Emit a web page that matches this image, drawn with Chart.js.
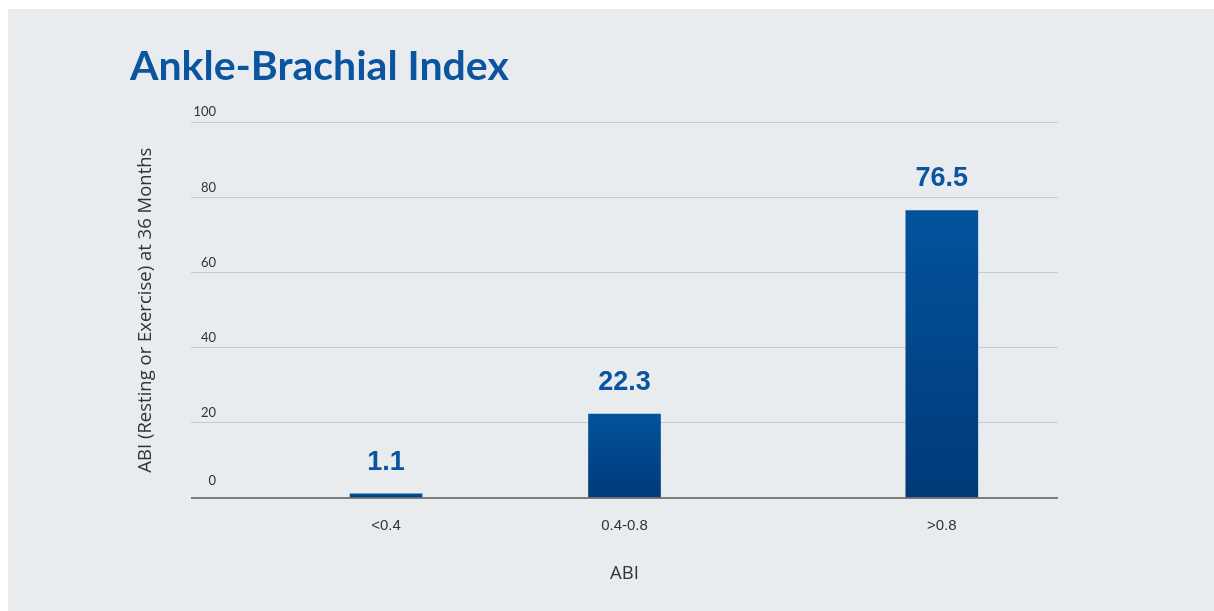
<!DOCTYPE html>
<html>
<head>
<meta charset="utf-8">
<script src="https://cdn.jsdelivr.net/npm/chart.js@4/dist/chart.umd.min.js"></script>
<style>
  html, body { margin: 0; padding: 0; background: #ffffff; }
  .wrap { position: relative; width: 1214px; height: 611px; overflow: hidden; }
  .panel { position: absolute; left: 8px; top: 9px; right: 0; bottom: 0; background: #e9ecef; }
  canvas { position: absolute; left: 0; top: 0; }
</style>
</head>
<body>
<div class="wrap">
  <div class="panel"></div>
  <canvas id="abi" width="1214" height="611"></canvas>
</div>
<script>
// ABI groups and share of limbs (%) at 36 months
const categories = ['<0.4', '0.4-0.8', '>0.8'];
const values = [1.1, 22.3, 76.5];
const yTicks = [0, 20, 40, 60, 80, 100];

// where each group sits along the x axis (0-100 track)
const slots = [22.5, 50, 86.6];

const blue = '#0a54a0';

function barFill(c) {
    const chart = c.chart;
    const area = chart.chartArea;
    if (!area) return '#004f99';
    const y = chart.scales.y;
    const top = y.getPixelForValue(c.raw.y);
    const base = y.getPixelForValue(0);
    const g = chart.ctx.createLinearGradient(0, top, 0, base);
    g.addColorStop(0, '#02539d');
    g.addColorStop(1, '#003a78');
    return g;
}

// y labels sit just above their gridlines, inside the plot
const yLabels = {
    id: 'yLabels',
    afterDraw(chart) {
        const { ctx, chartArea, scales } = chart;
        ctx.save();
        ctx.font = '13px Lato';
        ctx.fillStyle = '#333333';
        ctx.textAlign = 'right';
        ctx.textBaseline = 'middle';
        yTicks.forEach(v => {
            const lift = v === 0 ? 17 : 10;
            ctx.fillText(String(v), chartArea.left + 25, scales.y.getPixelForValue(v) - lift);
        });
        ctx.restore();
    }
};

// value above each bar
const barValues = {
    id: 'barValues',
    afterDatasetsDraw(chart) {
        const { ctx } = chart;
        const meta = chart.getDatasetMeta(0);
        ctx.save();
        ctx.font = 'bold 27px "Liberation Sans"';
        ctx.fillStyle = blue;
        ctx.textAlign = 'center';
        ctx.textBaseline = 'bottom';
        meta.data.forEach((bar, i) => {
            ctx.fillText(String(values[i]), bar.x, bar.y - 18);
        });
        ctx.restore();
    }
};

new Chart(document.getElementById('abi'), {
    type: 'bar',
    data: {
        datasets: [{
            data: values.map((v, i) => ({ x: slots[i], y: v })),
            backgroundColor: barFill,
            barThickness: 72,
            borderWidth: 0
        }]
    },
    options: {
        responsive: false,
        animation: false,
        layout: { padding: { left: 130, right: 156, top: 0, bottom: 20 } },
        plugins: {
            legend: { display: false },
            tooltip: { enabled: false },
            title: {
                display: true,
                text: 'Ankle-Brachial Index',
                align: 'start',
                color: blue,
                font: { family: 'Lato', size: 41, weight: 'bold' },
                padding: { top: 42, bottom: 31 }
            }
        },
        scales: {
            x: {
                type: 'linear',
                min: 0,
                max: 100,
                offset: false,
                afterBuildTicks: s => { s.ticks = slots.map(v => ({ value: v })); },
                afterFit: s => { s.height = 93; },
                grid: { display: false },
                border: { display: false },
                ticks: {
                    autoSkip: false,
                    maxRotation: 0,
                    padding: 11,
                    color: '#333333',
                    font: { family: 'Liberation Sans', size: 15 },
                    callback: (v, i) => categories[i]
                },
                title: {
                    display: true,
                    text: 'ABI',
                    color: '#333333',
                    font: { family: 'Open Sans', size: 18.5 },
                    padding: { top: 0, bottom: 6 }
                }
            },
            y: {
                min: 0,
                max: 100,
                afterBuildTicks: s => { s.ticks = yTicks.map(v => ({ value: v })); },
                afterFit: s => { s.width = 61; },
                border: { display: false },
                grid: {
                    drawTicks: false,
                    color: c => c.tick && c.tick.value === 0 ? '#7d7d7d' : '#c6c9cd',
                    lineWidth: c => c.tick && c.tick.value === 0 ? 2 : 1
                },
                ticks: { display: false },
                title: {
                    display: true,
                    text: 'ABI (Resting or Exercise) at 36 Months',
                    color: '#333333',
                    font: { family: 'Open Sans', size: 18.5 },
                    padding: { top: 5, bottom: 0 }
                }
            }
        }
    },
    plugins: [yLabels, barValues]
});
</script>
</body>
</html>
